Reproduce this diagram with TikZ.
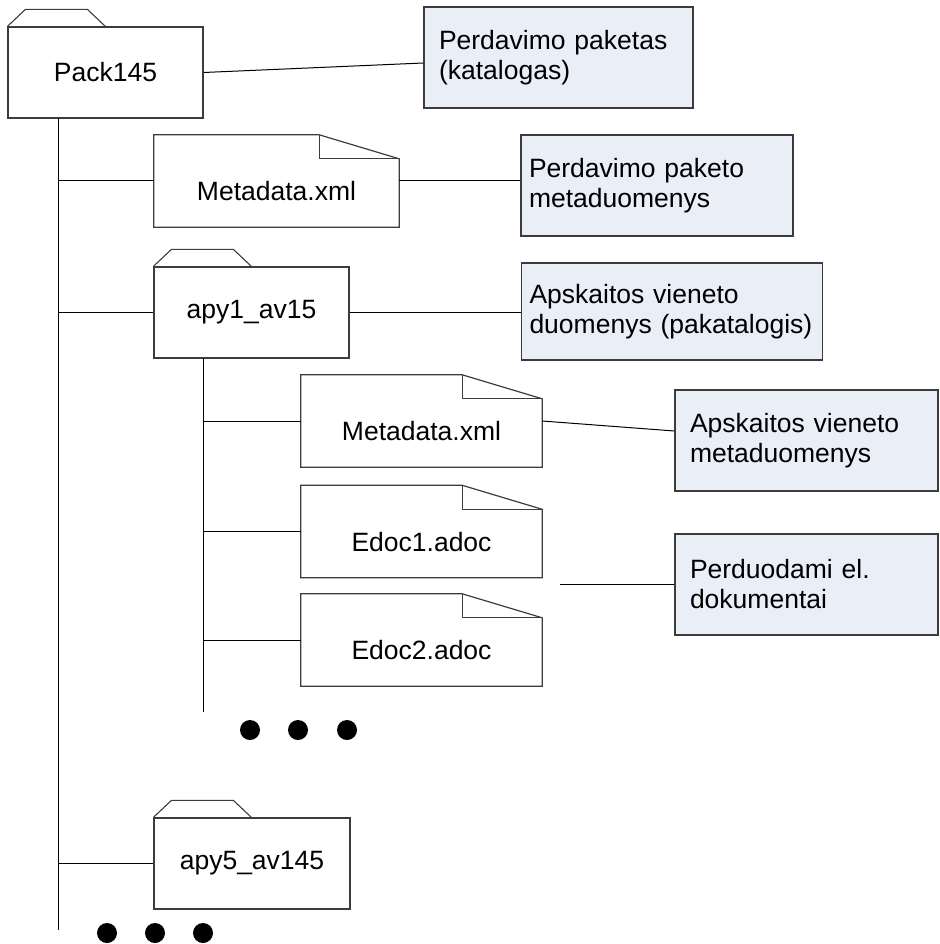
\documentclass[tikz,border=0pt]{standalone}
\usepackage{fontspec}
\setmainfont{Liberation Sans}
\usetikzlibrary{calc}
\definecolor{boxfill}{RGB}{233,238,247}
\definecolor{edge}{RGB}{60,60,60}
\tikzset{
  base/.style={font=\fontsize{26.5}{30}\selectfont, inner sep=0pt},
  folderbody/.style={base, draw=edge, line width=1.2pt, fill=white, minimum width=#1, minimum height=91pt},
  docbody/.style={base, minimum width=241pt, minimum height=92pt, text height=41pt, text depth=2pt},
  infobox/.style={base, draw=edge, line width=1.2pt, fill=boxfill, align=left, text width=#1, inner xsep=8pt},
  conn/.style={draw=black, line width=1pt},
  dot/.style={circle, fill=black, inner sep=0pt, minimum size=20pt}
}
\begin{document}
\begin{tikzpicture}[x=1pt,y=-1pt]
\useasboundingbox (0,0) rectangle (939,944);

% folders
\node[folderbody=195pt] (pack) at (105.5,72.5) {Pack145};
\node[folderbody=195pt] (apy1) at (251.5,312.5) {apy1\_av15};
\node[folderbody=196pt] (apy5) at (252,863.5) {apy5\_av145};
\foreach \n in {pack,apy1,apy5}{
  \draw[draw=edge, line width=1.1pt] (\n.north west) -- ++(18,-17) -- ++(62,0) -- ++(18,17);
}

% documents
\node[docbody, minimum width=245pt] (meta1) at (276.5,181) {Metadata.xml};
\node[docbody] (meta2) at (421.5,421) {Metadata.xml};
\node[docbody] (edoc1) at (421.5,531.5) {Edoc1.adoc};
\node[docbody] (edoc2) at (421.5,640) {Edoc2.adoc};
\foreach \n in {meta1,meta2,edoc1,edoc2}{
  \draw[draw=edge, line width=1.2pt] (\n.north west) -- ($(\n.north east)+(-80,0)$) -- ($(\n.north east)+(0,24)$) -- (\n.south east) -- (\n.south west) -- cycle;
  \draw[draw=edge, line width=1.2pt] ($(\n.north east)+(-80,0)$) -- ++(0,24) -- ($(\n.north east)+(0,24)$);
}

% info boxes
\node[infobox=239pt, inner xsep=15pt, minimum height=101pt] (box1) at (558.5,57.5) {Perdavimo paketas\\(katalogas)};
\node[infobox=256pt, minimum height=101pt] (box2) at (657,185.5) {Perdavimo paketo\\metaduomenys};
\node[infobox=285pt, minimum height=97pt] (box3) at (672,311.5) {Apskaitos vieneto\\duomenys (pakatalogis)};
\node[infobox=233pt, inner xsep=15pt, minimum height=101pt] (box4) at (806.5,440.5) {Apskaitos vieneto\\metaduomenys};
\node[infobox=233pt, inner xsep=15pt, minimum height=101pt] (box5) at (806.5,584.5) {Perduodami el.\\dokumentai};

% trunk coordinates
\coordinate (trunkTop) at (58,118);
\coordinate (trunkBot) at (58,930);
\coordinate (subTop) at (203,358);
\coordinate (subBot) at (203,712);
\coordinate (edocLink) at (560,584.5);

\draw[conn] (trunkTop) -- (trunkBot);
\draw[conn] (subTop) -- (subBot);

\draw[conn] (trunkTop |- meta1.west) -- (meta1.west);
\draw[conn] (trunkTop |- apy1.west) -- (apy1.west);
\draw[conn] (trunkTop |- apy5.west) -- (apy5.west);
\draw[conn] (subTop |- meta2.west) -- (meta2.west);
\draw[conn] (subTop |- edoc1.west) -- (edoc1.west);
\draw[conn] (subTop |- edoc2.west) -- (edoc2.west);

\draw[conn] (pack.east) -- ($(box1.west)+(0,5.5)$);
\draw[conn] (meta1.east) -- (meta1.east -| box2.west);
\draw[conn] (apy1.east) -- (apy1.east -| box3.west);
\draw[conn] (meta2.east) -- ($(box4.west)+(0,-9.5)$);
\draw[conn] (edocLink) -- (box5.west);

% dots
\node[dot] (d1) at (250,730) {};
\node[dot] (d2) at (298,730) {};
\node[dot] (d3) at (347,730) {};
\node[dot] (d4) at (107,933) {};
\node[dot] (d5) at (155,933) {};
\node[dot] (d6) at (203,933) {};
\end{tikzpicture}
\end{document}
